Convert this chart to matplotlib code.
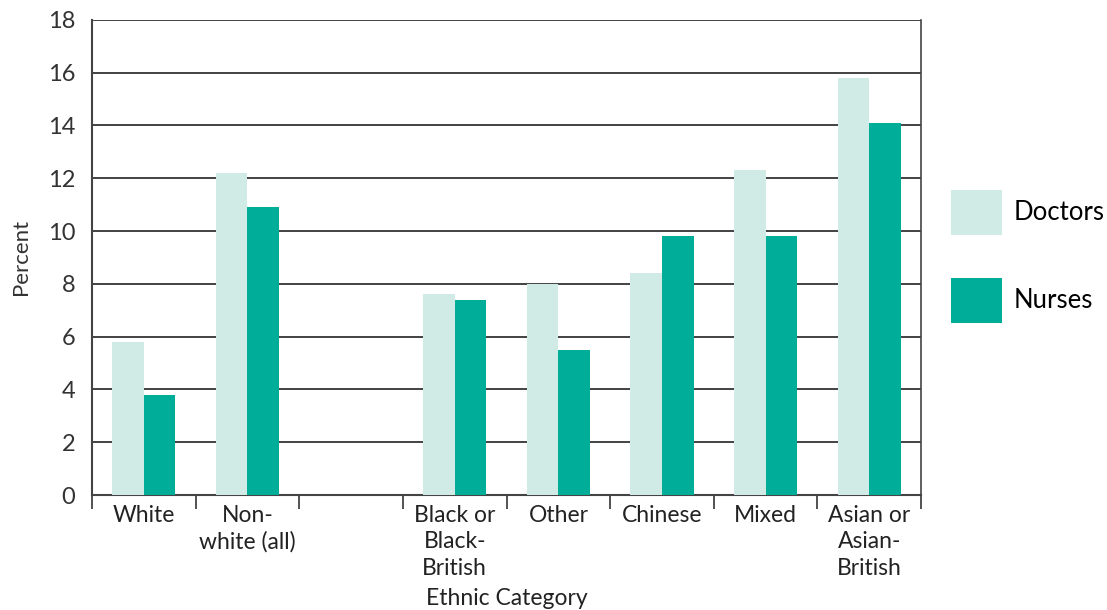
import numpy as np
import matplotlib.pyplot as plt
from matplotlib.patches import Patch

plt.rcParams['font.family'] = ['Lato', 'DejaVu Sans']

# Data; third slot is an empty gap
categories = ['White', 'Non-\nwhite (all)', '', 'Black or\nBlack-\nBritish',
              'Other', 'Chinese', 'Mixed', 'Asian or\nAsian-\nBritish']
doctors = [5.8, 12.2, np.nan, 7.6, 8.0, 8.4, 12.3, 15.8]
nurses = [3.8, 10.9, np.nan, 7.4, 5.5, 9.8, 9.8, 14.1]

doc_color = '#d0ebe5'
nur_color = '#00ad98'

fig = plt.figure(figsize=(11.07, 6.10), dpi=100)
ax = fig.add_axes([0.0831, 0.1885, 0.749, 0.779])

x = np.arange(len(categories))
w = 0.305
ax.bar(x - w / 2, doctors, w, color=doc_color, zorder=3)
ax.bar(x + w / 2, nurses, w, color=nur_color, zorder=3)

ax.set_xlim(-0.5, len(categories) - 0.5)
ax.set_ylim(0, 18)
ax.set_yticks(range(0, 19, 2))
ax.yaxis.grid(True, color='#222222', linewidth=1.2, zorder=0)
ax.tick_params(axis='y', length=0, labelsize=17, pad=12, labelcolor='#333333')

# category labels centred, tick marks at slot boundaries
ax.set_xticks(x)
ax.set_xticklabels(categories, fontsize=16.5, va='top', linespacing=1.32,
                   color='#222222')
ax.tick_params(axis='x', which='major', length=0, pad=7)
ax.set_xticks(np.arange(-0.5, len(categories)), minor=True)
ax.tick_params(axis='x', which='minor', length=10, width=1.2, direction='out',
               color='#333333')

for side in ['top', 'right']:
    ax.spines[side].set_visible(False)
ax.spines['left'].set_color('#444444')
ax.spines['left'].set_linewidth(1.5)
ax.spines['bottom'].set_color('#444444')
ax.spines['bottom'].set_linewidth(1.5)
ax.plot([1, 1], [0, 1], transform=ax.transAxes, color='#444444', lw=1.2,
        clip_on=False, zorder=4)

ax.set_ylabel('Percent', fontsize=16, labelpad=12, color='#333333')
ax.set_xlabel('Ethnic Category', fontsize=16.5, labelpad=6.5, color='#222222')

handles = [Patch(facecolor=doc_color, label='Doctors'),
           Patch(facecolor=nur_color, label='Nurses')]
fig.legend(handles=handles, loc='upper left',
           bbox_to_anchor=(951 / 1107, 1 - 190 / 610),
           frameon=False, fontsize=18.5, handlelength=2.0, handleheight=2.32,
           labelspacing=1.67, handletextpad=0.45, borderpad=0,
           borderaxespad=0)

fig.savefig('out.png', dpi=100)
